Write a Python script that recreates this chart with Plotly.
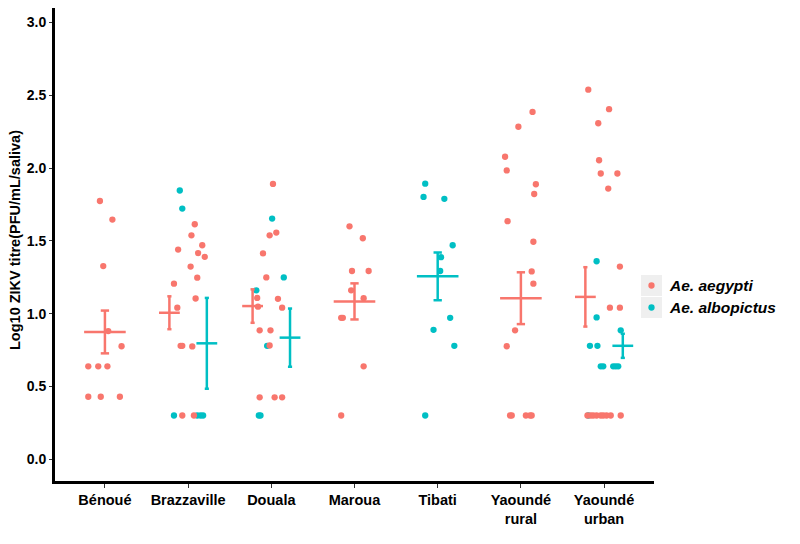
import plotly.graph_objects as go

# ---------------- data ----------------
sites = ["Bénoué", "Brazzaville", "Douala", "Maroua", "Tibati",
         "Yaoundé<br>rural", "Yaoundé<br>urban"]
y_ticks = [0.0, 0.5, 1.0, 1.5, 2.0, 2.5, 3.0]
species = ["Ae. aegypti", "Ae. albopictus"]

# Ae. aegypti titres per site (log10 PFU/mL/saliva) and jitter (category units)
aeg_benoue = [1.774, 1.646, 1.327, 0.880, 0.776, 0.638, 0.638, 0.638, 0.429, 0.429, 0.429]
aeg_benoue_jit = [-0.06, 0.09, -0.02, 0.04, 0.20, -0.20, -0.08, 0.03, -0.20, -0.05, 0.18]
aeg_brazza = [1.614, 1.538, 1.470, 1.440, 1.416, 1.390, 1.323, 1.247, 1.206, 1.104,
              1.041, 0.779, 0.779, 0.775, 0.30, 0.30]
aeg_brazza_jit = [0.08, 0.04, 0.17, -0.12, 0.12, 0.20, 0.03, 0.11, -0.17, 0.09,
                  -0.13, -0.09, -0.07, 0.05, -0.07, 0.07]
aeg_douala = [1.891, 1.557, 1.538, 1.414, 1.249, 1.108, 1.102, 1.048, 1.041, 0.885,
              0.885, 0.781, 0.425, 0.425, 0.425]
aeg_douala_jit = [0.02, 0.06, -0.02, -0.10, -0.06, -0.17, 0.08, -0.16, 0.13, -0.14,
                  -0.01, -0.02, -0.14, 0.04, 0.13]
aeg_maroua = [1.600, 1.518, 1.293, 1.293, 1.160, 1.106, 0.971, 0.971, 0.638, 0.30]
aeg_maroua_jit = [-0.06, 0.10, -0.03, 0.17, -0.04, 0.11, -0.16, -0.14, 0.11, -0.16]
aeg_yrural = [2.386, 2.284, 2.078, 1.984, 1.889, 1.822, 1.635, 1.494, 1.290, 1.206,
              0.885, 0.776, 0.30, 0.30, 0.30, 0.30, 0.30]
aeg_yrural_jit = [0.14, -0.03, -0.19, -0.17, 0.18, 0.16, -0.16, 0.15, 0.13, 0.15,
                  -0.07, -0.17, -0.13, -0.11, 0.06, 0.11, 0.13]
aeg_yurban = [2.539, 2.405, 2.308, 2.054, 1.963, 1.963, 1.859, 1.323, 1.041, 1.041,
              0.30, 0.30, 0.30, 0.30, 0.30, 0.30, 0.30, 0.30, 0.30]
aeg_yurban_jit = [-0.19, 0.06, -0.07, -0.06, -0.04, 0.16, 0.05, 0.19, 0.07, 0.19,
                  -0.20, -0.16, -0.13, -0.09, -0.04, -0.01, 0.03, 0.08, 0.20]

# Ae. albopictus titres per site
alb_brazza = [1.846, 1.722, 0.30, 0.30, 0.30, 0.30]
alb_brazza_jit = [-0.10, -0.07, -0.17, 0.11, 0.15, 0.18]
alb_douala = [1.653, 1.249, 1.160, 0.779, 0.30, 0.30]
alb_douala_jit = [0.01, 0.15, -0.18, -0.05, -0.15, -0.13]
alb_tibati = [1.893, 1.802, 1.789, 1.470, 1.388, 1.293, 0.971, 0.889, 0.779, 0.30]
alb_tibati_jit = [-0.15, -0.17, 0.08, 0.18, 0.04, 0.03, 0.15, -0.05, 0.20, -0.15]
alb_yurban = [1.360, 0.974, 0.885, 0.779, 0.779, 0.638, 0.638, 0.638, 0.638, 0.638, 0.30]
alb_yurban_jit = [-0.09, -0.09, 0.20, -0.17, -0.08, -0.04, -0.01, 0.11, 0.14, 0.17, -0.19]

# mean +/- SE per site (None = species not sampled)
aeg_mean = [0.874, 1.006, 1.052, 1.084, None, 1.106, 1.115]
aeg_se = [0.147, 0.113, 0.115, 0.124, None, 0.178, 0.204]
alb_mean = [None, 0.796, 0.835, None, 1.256, None, 0.779]
alb_se = [None, 0.312, 0.200, None, 0.164, None, 0.083]

# ---------------- build ----------------
COL = {"Ae. aegypti": "#F8766D", "Ae. albopictus": "#00BFC4"}

aeg_sets = [(0, aeg_benoue, aeg_benoue_jit), (1, aeg_brazza, aeg_brazza_jit),
            (2, aeg_douala, aeg_douala_jit), (3, aeg_maroua, aeg_maroua_jit),
            (5, aeg_yrural, aeg_yrural_jit), (6, aeg_yurban, aeg_yurban_jit)]
alb_sets = [(1, alb_brazza, alb_brazza_jit), (2, alb_douala, alb_douala_jit),
            (4, alb_tibati, alb_tibati_jit), (6, alb_yurban, alb_yurban_jit)]

fig = go.Figure()


def points_trace(sets, name):
    xs, ys = [], []
    for idx, vals, jit in sets:
        for v, j in zip(vals, jit):
            xs.append(idx + j)
            ys.append(v)
    return go.Scatter(x=xs, y=ys, mode="markers", name=name,
                      marker=dict(color=COL[name], size=6.3, line=dict(width=0)),
                      showlegend=False, hoverinfo="y")


fig.add_trace(points_trace(alb_sets, "Ae. albopictus"))
fig.add_trace(points_trace(aeg_sets, "Ae. aegypti"))


def cross_trace(means, ses, other, name, side):
    xs, ys = [], []
    for i, (m, s) in enumerate(zip(means, ses)):
        if m is None:
            continue
        both = other[i] is not None
        c = i + (side * 0.225 if both else 0)
        w = 0.25 if both else 0.5
        cw = 0.05 if both else 0.1
        xs += [c - w / 2, c + w / 2, None, c, c, None,
               c - cw / 2, c + cw / 2, None, c - cw / 2, c + cw / 2, None]
        ys += [m, m, None, m - s, m + s, None,
               m + s, m + s, None, m - s, m - s, None]
    return go.Scatter(x=xs, y=ys, mode="lines", showlegend=False, hoverinfo="skip",
                      line=dict(color=COL[name], width=2.5))


fig.add_trace(cross_trace(aeg_mean, aeg_se, alb_mean, "Ae. aegypti", -1))
fig.add_trace(cross_trace(alb_mean, alb_se, aeg_mean, "Ae. albopictus", 1))

W, H = 800, 544
ML, MR, MT, MB = 47, 154, 0, 71
PW, PH = W - ML - MR, H - MT - MB


def px(x):
    return (x - ML) / PW


def py(y):
    return (H - MB - y) / PH


# ggplot-style legend: grey key squares, dots, bold italic labels
shapes, annotations = [], []
KEY_X0, KEY_X1, KEY_H, DOT = 633.0, 654.0, 21.0, 6.3
for name, yc in zip(species, (277.5, 299.5)):
    shapes.append(dict(type="rect", xref="paper", yref="paper", layer="below",
                       x0=px(KEY_X0), x1=px(KEY_X1),
                       y0=py(yc + KEY_H / 2), y1=py(yc - KEY_H / 2),
                       fillcolor="#EFEFEF", line=dict(width=0)))
    xc = (KEY_X0 + KEY_X1) / 2
    shapes.append(dict(type="circle", xref="paper", yref="paper", layer="above",
                       x0=px(xc - DOT / 2), x1=px(xc + DOT / 2),
                       y0=py(yc + DOT / 2), y1=py(yc - DOT / 2),
                       fillcolor=COL[name], line=dict(width=0)))
    annotations.append(dict(text="<b><i>%s</i></b>" % name, xref="paper", yref="paper",
                            x=px(659), y=py(yc), xanchor="left", yanchor="middle",
                            showarrow=False, font=dict(size=15.5, color="black")))

annotations.append(dict(text="<b>Log10 ZIKV titre(PFU/mL/saliva)</b>", textangle=-90,
                        xref="paper", yref="paper", x=px(7.0), y=py(232),
                        showarrow=False, font=dict(size=14.5, color="black"),
                        xanchor="center", yanchor="middle"))

fig.update_layout(
    width=W, height=H,
    margin=dict(l=ML, r=MR, t=MT, b=MB, pad=0),
    paper_bgcolor="white", plot_bgcolor="white",
    font=dict(family="Liberation Sans, Arial, sans-serif", color="black", size=14.5),
    shapes=shapes, annotations=annotations, showlegend=False,
)
fig.update_xaxes(range=[-0.6, 6.6], tickmode="array", tickvals=list(range(len(sites))),
                 ticktext=["<b>%s</b>" % s for s in sites],
                 showgrid=False, zeroline=False, showline=True, linecolor="black",
                 linewidth=3, ticks="outside", ticklen=4, tickwidth=1, tickcolor="#333",
                 tickfont=dict(size=14.5, color="black"))
fig.update_yaxes(range=[-0.15, 3.10], tickmode="array", tickvals=y_ticks,
                 ticktext=["<b>%.1f</b>" % t for t in y_ticks],
                 showgrid=False, zeroline=False, showline=True, linecolor="black",
                 linewidth=3, ticks="outside", ticklen=3, tickwidth=1, tickcolor="#333",
                 tickfont=dict(size=14, color="black"))

fig.write_html("out.html")
